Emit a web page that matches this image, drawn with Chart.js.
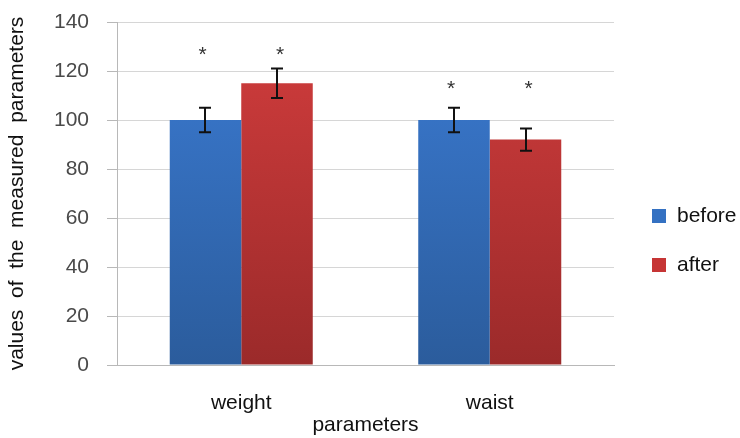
<!DOCTYPE html>
<html>
<head>
<meta charset="utf-8">
<script src="https://cdn.jsdelivr.net/npm/chart.js@4/dist/chart.umd.min.js"></script>
<style>
  html, body { margin: 0; padding: 0; background: #fff; }
  #wrap { width: 740px; height: 438px; }
</style>
</head>
<body>
<div id="wrap"><canvas id="c" width="740" height="438"></canvas></div>
<script>
// Measured parameters before and after, with standard errors
const categories = ['weight', 'waist'];
const seriesNames = ['before', 'after'];
const beforeValues = [100, 100];
const afterValues = [115, 92];
const beforeErrors = [5, 5];
const afterErrors = [6, 4.5];
// Height (in axis units) of the significance marks above each group
const starLevels = [128, 114];
const yMin = 0, yMax = 140, yStep = 20;

const FONT = '"Liberation Sans", Arial, sans-serif';

function barGradient(ctx, top, bottom) {
  const chart = ctx.chart;
  const area = chart.chartArea;
  if (!area) return top;
  const g = chart.ctx.createLinearGradient(0, area.top, 0, area.bottom);
  g.addColorStop(0, top);
  g.addColorStop(1, bottom);
  return g;
}

const blueTop = '#3b7bd3', blueBottom = '#2b5c9c';
const redTop = '#d23d3d', redBottom = '#9b2a2a';
const legendColors = ['#3471c2', '#c63535'];
const errors = [beforeErrors, afterErrors];

// Error bars, significance asterisks and the side legend
const annotations = {
  id: 'annotations',
  afterDatasetsDraw(chart) {
    const ctx = chart.ctx;
    const y = chart.scales.y;
    ctx.save();
    // error bars
    ctx.strokeStyle = '#111';
    ctx.lineWidth = 2;
    chart.data.datasets.forEach((ds, di) => {
      const meta = chart.getDatasetMeta(di);
      meta.data.forEach((bar, i) => {
        const v = ds.data[i], e = errors[di][i];
        const yHi = y.getPixelForValue(v + e);
        const yLo = y.getPixelForValue(v - e);
        const x = Math.round(bar.x);
        ctx.beginPath();
        ctx.moveTo(x, yHi); ctx.lineTo(x, yLo);
        ctx.moveTo(x - 6, yHi); ctx.lineTo(x + 6, yHi);
        ctx.moveTo(x - 6, yLo); ctx.lineTo(x + 6, yLo);
        ctx.stroke();
      });
    });
    // asterisks
    ctx.fillStyle = '#333';
    ctx.font = '21px ' + FONT;
    ctx.textAlign = 'center';
    ctx.textBaseline = 'middle';
    chart.data.datasets.forEach((ds, di) => {
      const meta = chart.getDatasetMeta(di);
      meta.data.forEach((bar, i) => {
        ctx.fillText('*', bar.x - 3 + di * 6, y.getPixelForValue(starLevels[i]) + 4);
      });
    });
    // legend
    ctx.font = '21px ' + FONT;
    ctx.textAlign = 'left';
    ctx.textBaseline = 'middle';
    seriesNames.forEach((name, i) => {
      const cy = 216 + i * 49;
      ctx.fillStyle = legendColors[i];
      ctx.fillRect(652, cy - 7, 14, 14);
      ctx.fillStyle = '#111';
      ctx.fillText(name, 677, cy);
    });
    ctx.restore();
  }
};

new Chart(document.getElementById('c'), {
  type: 'bar',
  data: {
    labels: categories,
    datasets: [
      {
        label: seriesNames[0],
        data: beforeValues,
        backgroundColor: (ctx) => barGradient(ctx, blueTop, blueBottom),
        borderWidth: 0
      },
      {
        label: seriesNames[1],
        data: afterValues,
        backgroundColor: (ctx) => barGradient(ctx, redTop, redBottom),
        borderWidth: 0
      }
    ]
  },
  options: {
    responsive: false,
    animation: false,
    events: [],
    layout: { padding: { left: 0, right: 126, top: 22, bottom: 0 } },
    datasets: { bar: { categoryPercentage: 0.5755, barPercentage: 1 } },
    plugins: {
      legend: { display: false },
      tooltip: { enabled: false }
    },
    scales: {
      x: {
        grid: { display: false, drawTicks: false },
        border: { display: true, color: '#b8b8b8', width: 1 },
        ticks: { color: '#111', font: { family: FONT, size: 21 }, padding: 26 },
        title: {
          display: true,
          text: 'parameters',
          color: '#111',
          font: { family: FONT, size: 21 },
          padding: { top: 0, bottom: 0 }
        },
        afterFit(scale) {
          scale.height = 73;
          scale.paddingLeft = 0;
          scale.paddingRight = 0;
        }
      },
      y: {
        min: yMin,
        max: yMax,
        ticks: {
          stepSize: yStep,
          color: '#4a4a4a',
          font: { family: FONT, size: 21 },
          padding: 18
        },
        grid: { color: '#d6d6d6', tickColor: '#b8b8b8', tickLength: 10, lineWidth: 1 },
        border: { display: true, color: '#b8b8b8', width: 1 },
        title: {
          display: true,
          text: 'values  of  the  measured  parameters',
          color: '#111',
          font: { family: FONT, size: 21 },
          padding: { top: 5, bottom: 0 }
        },
        afterFit(scale) {
          scale.width = 117;
          scale.paddingTop = 0;
          scale.paddingBottom = 0;
        }
      }
    }
  },
  plugins: [annotations]
});
</script>
</body>
</html>
